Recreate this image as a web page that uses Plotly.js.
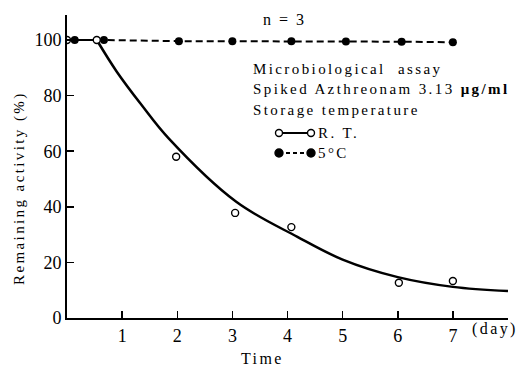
<!DOCTYPE html>
<html>
<head>
<meta charset="utf-8">
<script src="https://cdn.plot.ly/plotly-3.0.1.min.js"></script>
<style>
  html, body { margin: 0; padding: 0; background: #fff; }
  #chart { width: 524px; height: 372px; }
  .annotation-text { letter-spacing: 2.4px; }
</style>
</head>
<body>
<div id="chart"></div>
<script>
// Room temperature (R.T.) measured points
const rtDays = [0, 0.54, 1.98, 3.05, 4.07, 6.02, 7.0];
const rtActivity = [100, 100, 58, 37.8, 32.7, 12.7, 13.3];
// R.T. fitted curve
const rtFitDays = [0.54, 0.90, 1.35, 1.84, 3.07, 4.18, 5, 6, 7, 8];
const rtFitActivity = [100, 88.7, 76.7, 64.7, 41.8, 29.2, 21, 14.7, 11.2, 9.7];
const rtPlateauDays = [0, 0.54];
const rtPlateauActivity = [100, 100];
// 5 degC storage points
const coldDays = [0.14, 0.67, 2.03, 3.0, 4.07, 5.06, 6.07, 7.0];
const coldActivity = [100, 100, 99.6, 99.6, 99.6, 99.5, 99.4, 99.2];
// ticks
const xTicks = [1, 2, 3, 4, 5, 6, 7];
const yTicks = [0, 20, 40, 60, 80, 100];

const FONT = "'Liberation Serif', serif";

const traces = [
  { x: rtPlateauDays, y: rtPlateauActivity, mode: 'lines', line: {color: '#000', width: 2}, showlegend: false, hoverinfo: 'skip' },
  { x: rtFitDays, y: rtFitActivity, mode: 'lines', line: {color: '#000', width: 2.5, shape: 'spline', smoothing: 1}, showlegend: false, hoverinfo: 'skip' },
  { x: coldDays, y: coldActivity, mode: 'lines+markers', name: '5°C',
    line: {color: '#000', width: 2, dash: '7px,4px'},
    marker: {color: '#000', size: 8, symbol: 'circle'}, showlegend: false },
  { x: rtDays, y: rtActivity, mode: 'markers', name: 'R. T.',
    marker: {color: '#fff', size: 7, symbol: 'circle', line: {color: '#000', width: 1.4}}, showlegend: false }
];

function px(xp) { return (xp - 67) / 441; }
function py(yp) { return (318 - yp) / 303; }

function dot(xp, yp, r, fill) {
  return { type: 'circle', xref: 'paper', yref: 'paper', xsizemode: 'pixel', ysizemode: 'pixel',
    xanchor: px(xp), yanchor: py(yp), x0: -r, x1: r, y0: -r, y1: r,
    fillcolor: fill, line: {color: '#000', width: 1.4} };
}

const shapes = [
  { type: 'line', xref: 'paper', yref: 'paper', x0: px(279), x1: px(311), y0: py(133), y1: py(133), line: {color: '#000', width: 2} },
  dot(279, 133, 3.5, '#fff'), dot(311, 133, 3.5, '#fff'),
  { type: 'line', xref: 'paper', yref: 'paper', x0: px(279), x1: px(311), y0: py(153), y1: py(153), line: {color: '#000', width: 2, dash: '4px,3px'} },
  dot(279, 153, 4, '#000'), dot(311, 153, 4, '#000')
];

function ann(text, xp, yp, size, opts) {
  return Object.assign({ text: text, xref: 'paper', yref: 'paper', x: px(xp), y: py(yp),
    xanchor: 'left', yanchor: 'middle', showarrow: false,
    font: {family: FONT, size: size, color: '#000'} }, opts || {});
}

const annotations = [
  ann('n\u2009=\u20093', 284, 20, 16, {xanchor: 'center'}),
  ann('Microbiological  assay', 251, 69, 15),
  ann('Spiked Azthreonam 3.13 <b>μg/ml</b>', 251, 89, 15),
  ann('Storage temperature', 251, 110, 15),
  ann('R. T.', 316, 133, 15),
  ann('5°C', 316, 153, 15),
  ann('(day)', 470, 329, 16),
  ann('Time', 262, 358, 16, {xanchor: 'center'}),
  ann('Remaining activity (%)', 19, 188, 15, {xanchor: 'center', textangle: -90})
];

const layout = {
  width: 524, height: 372,
  margin: {l: 67, r: 16, t: 15, b: 54},
  paper_bgcolor: '#fff', plot_bgcolor: '#fff',
  font: {family: FONT, size: 18, color: '#000'},
  showlegend: false,
  xaxis: {
    range: [0, 8], tickvals: xTicks, ticktext: xTicks.map(String),
    ticks: 'inside', ticklen: 7, tickwidth: 1.5, tickcolor: '#000',
    showline: true, linewidth: 2, linecolor: '#000', mirror: false,
    showgrid: false, zeroline: false,
    tickfont: {family: FONT, size: 18, color: '#000'}
  },
  yaxis: {
    range: [0, 109], tickvals: yTicks, ticktext: yTicks.map(String),
    ticks: 'inside', ticklen: 7, tickwidth: 1.5, tickcolor: '#000',
    showline: true, linewidth: 2, linecolor: '#000', mirror: false,
    showgrid: false, zeroline: false,
    tickfont: {family: FONT, size: 18, color: '#000'}
  },
  shapes: shapes,
  annotations: annotations
};

Plotly.newPlot('chart', traces, layout, {displayModeBar: false, staticPlot: true});
</script>
</body>
</html>
